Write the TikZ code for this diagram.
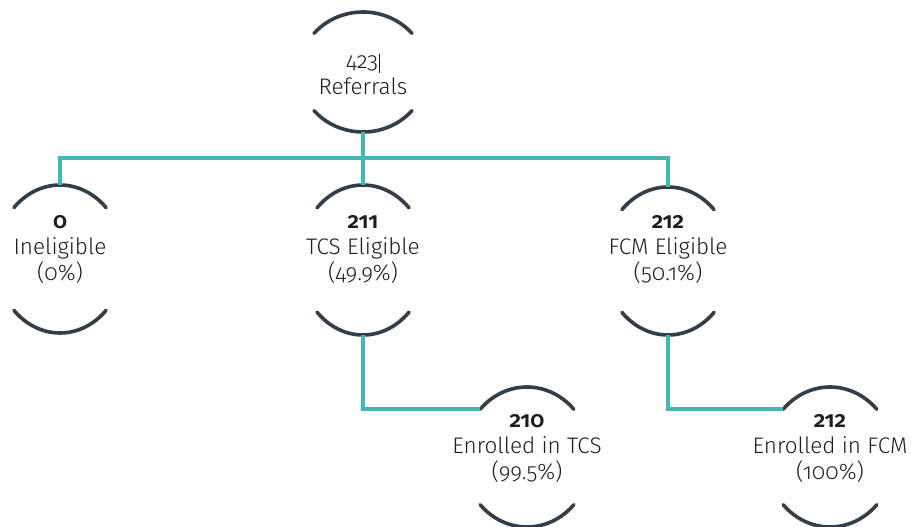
\documentclass[tikz,border=0pt]{standalone}
\usepackage{fontspec}
\setmainfont{Fira Sans Light}[Numbers=OldStyle,BoldFont={Fira Sans SemiBold}]
\usetikzlibrary{calc}
\definecolor{linkteal}{HTML}{45B8B5}
\definecolor{ringslate}{HTML}{343E48}
\definecolor{inkgray}{HTML}{1E1E1E}
\tikzset{
  link/.style={draw=linkteal,line width=3.6pt},
  ring/.style={draw=ringslate,line width=3.6pt,line cap=round},
  lbl/.style={align=center,font=\fontsize{22.5}{26}\selectfont,text=inkgray,inner sep=0pt},
}
% a pair of facing arcs around a centre: #1 name, #2 x, #3 y, #4 vertical radius, #5 half-gap angle
\newcommand\ringpair[5]{%
  \coordinate (#1) at (#2,#3);
  \draw[ring] (#1) ++(180+#5:64 and #4) coordinate (#1-w)
    arc[start angle=180+#5,end angle=360-#5,x radius=64,y radius=#4];
  \draw[ring] (#1) ++(#5:64 and #4)
    arc[start angle=#5,end angle=180-#5,x radius=64,y radius=#4];
  \path (#1) ++(0,-#4) coordinate (#1-n);
  \path (#1) ++(0,#4) coordinate (#1-s);
}
\begin{document}
\begin{tikzpicture}[x=1pt,y=1pt,yscale=-1]
\useasboundingbox (0,0) rectangle (911,527);

% rings
\ringpair{ref}{363}{72}{60}{40}
\ringpair{inel}{60}{259}{74}{44}
\ringpair{tcs}{363}{260}{75}{44}
\ringpair{fcm}{668}{261}{74}{44}
\ringpair{tcsE}{527}{457}{70}{43}
\ringpair{fcmE}{830}{457}{70}{43}

% labels
\node[lbl] (ref-t) at (363,74) {423\kern1pt\rule[-0.2em]{0.8pt}{0.85em}\\Referrals};
\node[lbl] (inel-t) at (60,250) {{\bfseries 0}\\Ineligible\\(0\%)};
\node[lbl] (tcs-t) at (363,250) {{\bfseries 211}\\TCS Eligible\\(49.9\%)};
\node[lbl] (fcm-t) at (668,250) {{\bfseries 212}\\FCM Eligible\\(50.1\%)};
\node[lbl] (tcsE-t) at (527,449) {{\bfseries 210}\\Enrolled in TCS\\(99.5\%)};
\node[lbl] (fcmE-t) at (830,449) {{\bfseries 212}\\Enrolled in FCM\\(100\%)};

% connectors
\coordinate (bus) at (0,158);
\draw[link] (inel-n) -- (inel-n |- bus) -- (fcm-n |- bus) -- (fcm-n);
\draw[link] (ref-s) -- (tcs-n);
\draw[link] (tcs-s) |- (tcsE-w);
\draw[link] (fcm-s) |- (fcmE-w);
\end{tikzpicture}
\end{document}
